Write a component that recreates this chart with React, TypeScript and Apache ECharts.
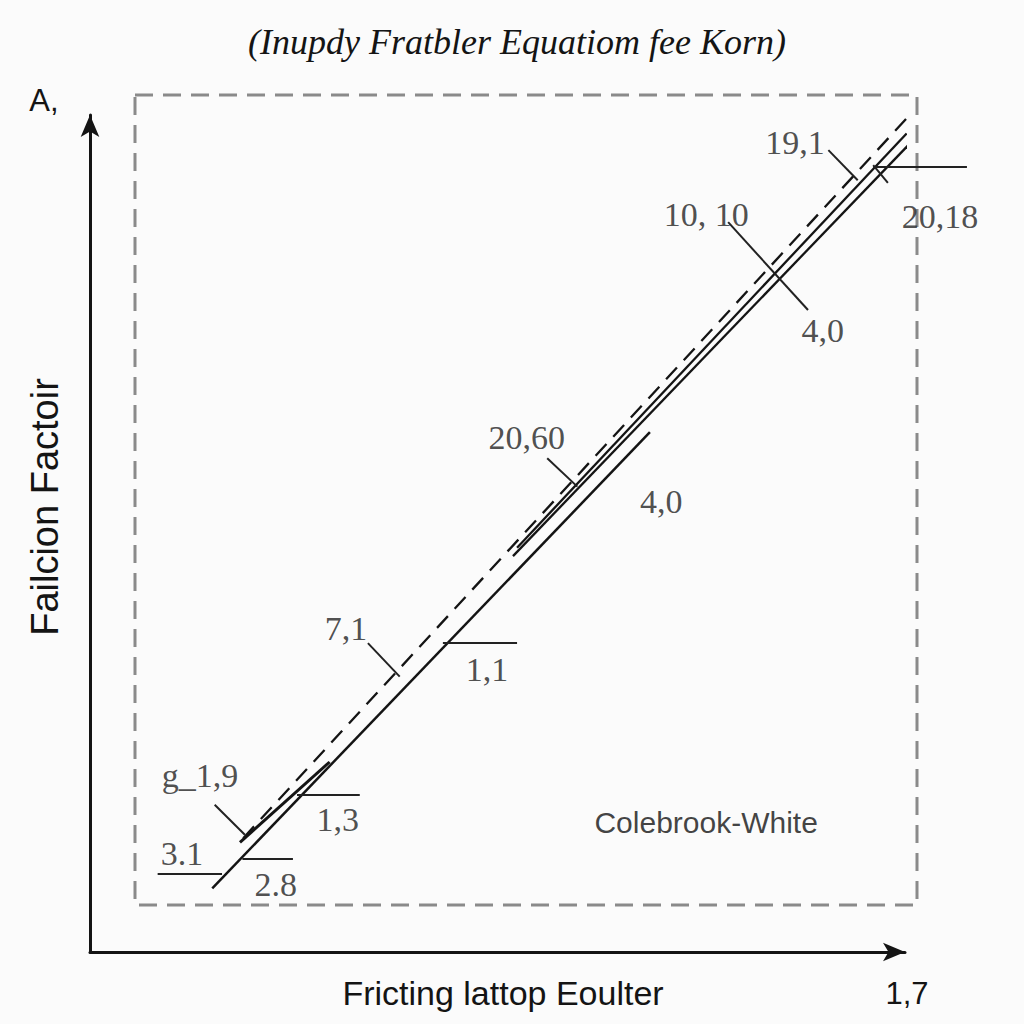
import React, { useEffect, useRef } from "react";
import * as echarts from "echarts";

// Data space: x 0..100, y 0..100
const LINE_LOWER = [[15.0, 7.6], [68.7, 62.1]];
const LINE_PAIR_A = [[51.9, 47.3], [100.9, 96.9]];
const LINE_PAIR_B = [[52.4, 48.3], [100.2, 97.8]];
const LINE_BUNDLE = [[18.4, 13.1], [29.4, 22.7]];
const LINE_DASHED = [[18.8, 13.6], [100.2, 99.6]];

const LEADERS = [
  [[90.6, 95.8], [94.2, 92.2]],
  [[96.1, 93.8], [107.6, 93.8]],
  [[96.1, 94.0], [97.9, 91.9]],
  [[78.3, 87.2], [88.1, 76.7]],
  [[56.1, 59.0], [59.8, 55.6]],
  [[34.1, 36.9], [38.0, 32.9]],
  [[43.3, 36.9], [52.4, 36.9]],
  [[15.3, 17.6], [19.0, 14.0]],
  [[25.4, 18.8], [33.1, 18.8]],
  [[8.3, 9.4], [16.2, 9.4]],
  [[18.7, 11.2], [24.9, 11.2]],
];

const LABEL_TEXTS = ["19,1", "20,18", "10, 10", "4,0", "20,60", "4,0", "7,1", "1,1", "g_1,9", "1,3", "3.1", "2.8"];
const LABEL_POS = [
  [86.5, 96.7], [104.3, 87.9], [75.6, 88.1], [89.9, 74.3], [53.6, 61.5], [70.1, 53.8],
  [31.4, 38.7], [48.7, 33.7], [13.5, 21.1], [30.4, 15.8], [11.3, 11.8], [22.8, 8.1],
];
const LEGEND_TEXT = "Colebrook-White";
const LEGEND_POS = [75.6, 15.5];

const TITLE = "(Inupdy Fratbler Equatiom fee Korn)";
const X_NAME = "Fricting lattop Eoulter";
const X_END = "1,7";
const Y_NAME = "Failcion Factoir";
const Y_END = "A,";

const INK = "#141414";

export default function App() {
  const ref = useRef<HTMLDivElement>(null);
  useEffect(() => {
    if (!ref.current) return;
    const chart = echarts.init(ref.current, null, { renderer: "svg" });
    const solid = (data: number[][], w = 2.2) => ({
      type: "line",
      data,
      symbol: "none",
      clip: false,
      lineStyle: { color: INK, width: w },
      z: 3,
    });
    chart.setOption({
      animation: false,
      backgroundColor: "#fbfbfb",
      grid: { left: 90, right: 119, top: 115, bottom: 72 },
      xAxis: {
        type: "value",
        min: 0,
        max: 100,
        axisLine: {
          show: true,
          onZero: false,
          symbol: ["none", "arrow"],
          symbolSize: [14, 22],
          lineStyle: { color: INK, width: 3 },
        },
        axisTick: { show: false },
        axisLabel: { show: false },
        splitLine: { show: false },
      },
      yAxis: {
        type: "value",
        min: 0,
        max: 100,
        axisLine: {
          show: true,
          onZero: false,
          symbol: ["none", "arrow"],
          symbolSize: [14, 22],
          lineStyle: { color: INK, width: 3 },
        },
        axisTick: { show: false },
        axisLabel: { show: false },
        splitLine: { show: false },
      },
      graphic: [
        {
          type: "rect",
          shape: { x: 135, y: 95, width: 782, height: 810 },
          style: { fill: "none", stroke: "#8a8a8a", lineWidth: 3, lineDash: [18, 10] },
          z: 1,
        },
        {
          type: "text",
          x: 517,
          y: 42,
          style: {
            text: TITLE,
            font: "italic 36px 'Liberation Serif', serif",
            fill: INK,
            align: "center",
            verticalAlign: "middle",
          },
        },
        {
          type: "text",
          x: 503,
          y: 993,
          style: {
            text: X_NAME,
            font: "34px 'Liberation Sans', Arial, sans-serif",
            fill: INK,
            align: "center",
            verticalAlign: "middle",
          },
        },
        {
          type: "text",
          x: 907,
          y: 993,
          style: {
            text: X_END,
            font: "31px 'Liberation Sans', Arial, sans-serif",
            fill: INK,
            align: "center",
            verticalAlign: "middle",
          },
        },
        {
          type: "text",
          x: 45,
          y: 507,
          rotation: Math.PI / 2,
          style: {
            text: Y_NAME,
            font: "38px 'Liberation Sans', Arial, sans-serif",
            fill: INK,
            align: "center",
            verticalAlign: "middle",
          },
        },
        {
          type: "text",
          x: 44,
          y: 100,
          style: {
            text: Y_END,
            font: "31px 'Liberation Sans', Arial, sans-serif",
            fill: INK,
            align: "center",
            verticalAlign: "middle",
          },
        },
      ],
      series: [
        solid(LINE_LOWER, 2.5),
        solid(LINE_PAIR_A, 2.3),
        solid(LINE_PAIR_B, 2.3),
        solid(LINE_BUNDLE, 3),
        {
          type: "line",
          data: LINE_DASHED,
          symbol: "none",
          clip: false,
          lineStyle: { color: INK, width: 2.3, type: [16, 10] },
          z: 3,
        },
        {
          type: "lines",
          coordinateSystem: "cartesian2d",
          clip: false,
          data: LEADERS.map((c) => ({ coords: c })),
          lineStyle: { color: "#222", width: 2, opacity: 1 },
          z: 4,
        },
        {
          type: "scatter",
          symbolSize: 0,
          clip: false,
          data: LABEL_POS.map((p, i) => ({ value: p, name: LABEL_TEXTS[i] })),
          label: {
            show: true,
            position: "inside",
            formatter: (p: any) => p.name,
            fontFamily: "'Liberation Serif', serif",
            fontSize: 34,
            color: "#222",
          },
          z: 5,
        },
        {
          type: "scatter",
          symbolSize: 0,
          clip: false,
          data: [{ value: LEGEND_POS, name: LEGEND_TEXT }],
          label: {
            show: true,
            position: "inside",
            formatter: (p: any) => p.name,
            fontFamily: "'Liberation Sans', Arial, sans-serif",
            fontSize: 30,
            color: "#111",
          },
          z: 5,
        },
      ],
    });
    return () => chart.dispose();
  }, []);
  return (
    <div
      ref={ref}
      style={{ position: "fixed", left: 0, top: 0, width: 1024, height: 1024 }}
    />
  );
}
